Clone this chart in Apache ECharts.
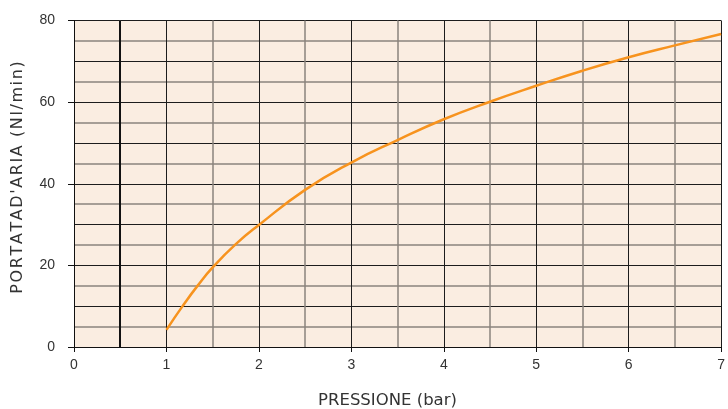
<!DOCTYPE html>
<html>
<head>
<meta charset="utf-8">
<script src="https://cdn.jsdelivr.net/npm/echarts@6/dist/echarts.min.js"></script>
<style>
html,body{margin:0;padding:0;background:#fff;}
#chart{width:728px;height:409px;}
</style>
</head>
<body>
<div id="chart"></div>
<script>
// Pressure (bar) and air flow (Nl/min)
const pressure = [1, 1.18, 1.34, 1.5, 1.75, 2, 2.5, 3, 3.5, 4, 4.5, 5, 5.5, 6, 6.5, 7];
const flow     = [4.2, 10.2, 15.1, 19.5, 25.2, 29.9, 38.5, 45.2, 50.7, 55.8, 60.1, 64.0, 67.7, 71.0, 73.9, 76.7];
const xTicks = [0, 1, 2, 3, 4, 5, 6, 7];
const yTicks = [0, 20, 40, 60, 80];
const xName = 'PRESSIONE (bar)';
const yName = "PORTATAD'ARIA (Nl/min)";
const markX = 0.5;

const HS = '\u200A';
const spaced = s => s.split('').join(HS);

const chart = echarts.init(document.getElementById('chart'), null, {renderer: 'canvas'});
const labelFont = {fontFamily: 'Liberation Sans', fontSize: 14, color: '#333'};
const hidden = {axisLine: {show: false}, axisTick: {show: false}, axisLabel: {show: false}};

chart.setOption({
  animation: false,
  backgroundColor: '#fff',
  grid: {left: 74, right: 2.3, top: 20.5, bottom: 62, show: true,
         backgroundColor: '#FAEDE1', borderWidth: 0},
  xAxis: [
    {type: 'value', min: xTicks[0], max: xTicks[xTicks.length - 1], interval: 1,
     axisLine: {show: true, lineStyle: {color: '#111', width: 1}},
     axisTick: {show: true, length: 5, lineStyle: {color: '#111'}},
     axisLabel: Object.assign({margin: 11}, labelFont),
     splitLine: {show: true, lineStyle: {color: '#1c1c1c', width: 1}}},
    Object.assign({type: 'value', min: 0, max: 7, interval: 0.5,
     splitLine: {show: true, lineStyle: {color: ['transparent', '#8a837d'], width: 1.5}}}, hidden)
  ],
  yAxis: [
    {type: 'value', min: yTicks[0], max: yTicks[yTicks.length - 1], interval: 20,
     axisLine: {show: true, lineStyle: {color: '#111', width: 1}},
     axisTick: {show: true, length: 6, lineStyle: {color: '#111'}},
     axisLabel: Object.assign({margin: 19}, labelFont),
     splitLine: {show: false}},
    Object.assign({type: 'value', min: 0, max: 80, interval: 5, position: 'left',
     splitLine: {show: true, lineStyle: {color: ['#1c1c1c', 'transparent'], width: 1}}}, hidden),
    Object.assign({type: 'value', min: 0, max: 80, interval: 5, position: 'left',
     splitLine: {show: true, lineStyle: {color: ['transparent', '#8a837d'], width: 1.5}}}, hidden)
  ],
  series: [{
    type: 'line',
    xAxisIndex: 0, yAxisIndex: 0,
    data: pressure.map((p, i) => [p, flow[i]]),
    smooth: 0.5,
    showSymbol: false,
    lineStyle: {color: '#F7931E', width: 2.5},
    z: 5,
    markLine: {
      silent: true, symbol: 'none', label: {show: false},
      lineStyle: {color: '#111', width: 2, type: 'solid'},
      data: [{xAxis: markX}]
    }
  }],
  graphic: [
    {type: 'text', x: 387.5, y: 401,
     style: {text: xName, font: '16.5px "DejaVu Sans"', fill: '#333', align: 'center', verticalAlign: 'middle'}},
    {type: 'text', x: 18, y: 177.5, rotation: Math.PI / 2,
     style: {text: spaced(yName), font: '16px "DejaVu Sans"', fill: '#333', align: 'center', verticalAlign: 'middle'}}
  ]
});
</script>
</body>
</html>
